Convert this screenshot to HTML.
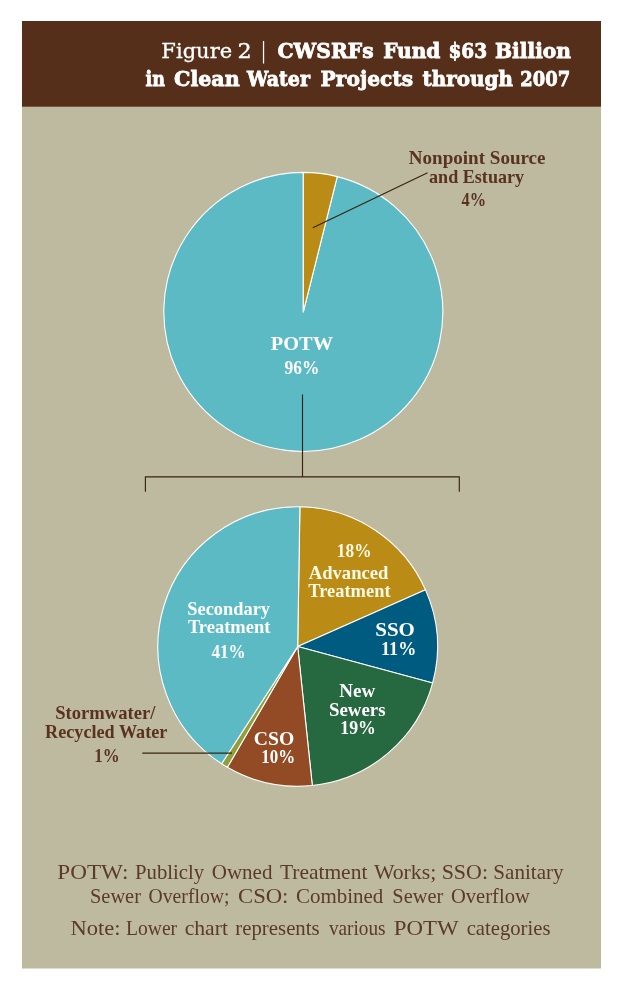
<!DOCTYPE html>
<html lang="en"><head><meta charset="utf-8"><title>Figure 2 | CWSRFs Fund $63 Billion in Clean Water Projects through 2007</title>
<style>html,body{margin:0;padding:0;background:#fff}svg{display:block}</style></head>
<body>
<svg width="623" height="989" viewBox="0 0 623 989">
<rect x="22" y="100" width="579" height="868.5" fill="#bebaa0"/>
<rect x="22" y="21" width="579" height="85.7" fill="#552f1a"/>
<g stroke="#fff" stroke-width="1.1" stroke-linejoin="round">
<path d="M303.30 311.90L337.28 176.60A139.5 139.5 0 1 1 303.30 172.40Z" fill="#5cbac5"/>
<path d="M303.30 311.90L303.30 172.40A139.5 139.5 0 0 1 337.28 176.60Z" fill="#bb8c15"/>
</g>
<g stroke="#fff" stroke-width="1.1" stroke-linejoin="round">
<path d="M297.70 646.50L299.90 506.72A139.8 139.8 0 0 1 425.51 589.86Z" fill="#bb8c15"/>
<path d="M297.70 646.50L425.51 589.86A139.8 139.8 0 0 1 432.67 682.92Z" fill="#005b80"/>
<path d="M297.70 646.50L432.67 682.92A139.8 139.8 0 0 1 312.31 785.53Z" fill="#266840"/>
<path d="M297.70 646.50L312.31 785.53A139.8 139.8 0 0 1 227.38 767.33Z" fill="#934b25"/>
<path d="M297.70 646.50L227.38 767.33A139.8 139.8 0 0 1 221.56 763.75Z" fill="#919e3c"/>
<path d="M297.70 646.50L221.56 763.75A139.8 139.8 0 0 1 299.90 506.72Z" fill="#5cbac5"/>
</g>
<g stroke="#38220f" stroke-width="1.15" fill="none">
<path d="M302.5 394.5V476.9"/>
<path d="M145.4 491.7V476.9H459.3V491.7"/>
<path d="M142.3 753.1H232"/>
<path d="M312.8 227.8L427.6 172.8"/>
</g>
<text y="58.0" font-family="'DejaVu Serif', serif" font-size="20.5" font-weight="normal" fill="#fff" stroke="#fff" stroke-width="0.3"><tspan x="161.38" textLength="70.76" lengthAdjust="spacingAndGlyphs">Figure</tspan> <tspan x="237.51" textLength="14.23" lengthAdjust="spacingAndGlyphs">2</tspan></text>
<text y="58.0" font-family="'DejaVu Serif', serif" font-size="21.5" font-weight="normal" fill="#fff"><tspan x="261.10" textLength="5.07" lengthAdjust="spacingAndGlyphs">|</tspan></text>
<text y="57.8" font-family="'DejaVu Serif', serif" font-size="20.5" font-weight="bold" fill="#fff" stroke="#fff" stroke-width="0.8"><tspan x="277.50" textLength="96.03" lengthAdjust="spacingAndGlyphs">CWSRFs</tspan> <tspan x="383.20" textLength="57.13" lengthAdjust="spacingAndGlyphs">Fund</tspan> <tspan x="448.40" textLength="38.64" lengthAdjust="spacingAndGlyphs">$63</tspan> <tspan x="495.00" textLength="76.01" lengthAdjust="spacingAndGlyphs">Billion</tspan></text>
<text y="86.1" font-family="'DejaVu Serif', serif" font-size="20.5" font-weight="bold" fill="#fff" stroke="#fff" stroke-width="0.8"><tspan x="145.50" textLength="19.42" lengthAdjust="spacingAndGlyphs">in</tspan> <tspan x="174.00" textLength="65.70" lengthAdjust="spacingAndGlyphs">Clean</tspan> <tspan x="247.03" textLength="62.96" lengthAdjust="spacingAndGlyphs">Water</tspan> <tspan x="320.60" textLength="92.53" lengthAdjust="spacingAndGlyphs">Projects</tspan> <tspan x="422.50" textLength="90.41" lengthAdjust="spacingAndGlyphs">through</tspan> <tspan x="520.33" textLength="49.88" lengthAdjust="spacingAndGlyphs">2007</tspan></text>
<text y="164.3" font-family="'Liberation Serif', serif" font-size="19" font-weight="bold" fill="#5a3320"><tspan x="408.80" textLength="136.73" lengthAdjust="spacingAndGlyphs">Nonpoint Source</tspan></text>
<text y="182.5" font-family="'Liberation Serif', serif" font-size="19" font-weight="bold" fill="#5a3320"><tspan x="429.00" textLength="95.12" lengthAdjust="spacingAndGlyphs">and Estuary</tspan></text>
<text y="205.6" font-family="'Liberation Serif', serif" font-size="19" font-weight="bold" fill="#5a3320"><tspan x="461.60" textLength="24.56" lengthAdjust="spacingAndGlyphs">4%</tspan></text>
<text y="349.6" font-family="'Liberation Serif', serif" font-size="19" font-weight="bold" fill="#fff"><tspan x="270.80" textLength="62.20" lengthAdjust="spacingAndGlyphs">POTW</tspan></text>
<text y="374.2" font-family="'Liberation Serif', serif" font-size="19" font-weight="bold" fill="#fff"><tspan x="284.60" textLength="34.82" lengthAdjust="spacingAndGlyphs">96%</tspan></text>
<text y="556.5" font-family="'Liberation Serif', serif" font-size="19" font-weight="bold" fill="#fffae6"><tspan x="336.79" textLength="34.73" lengthAdjust="spacingAndGlyphs">18%</tspan></text>
<text y="579.0" font-family="'Liberation Serif', serif" font-size="19" font-weight="bold" fill="#fffae6"><tspan x="308.80" textLength="79.58" lengthAdjust="spacingAndGlyphs">Advanced</tspan></text>
<text y="597.4" font-family="'Liberation Serif', serif" font-size="19" font-weight="bold" fill="#fffae6"><tspan x="308.30" textLength="82.25" lengthAdjust="spacingAndGlyphs">Treatment</tspan></text>
<text y="636.4" font-family="'Liberation Serif', serif" font-size="19" font-weight="bold" fill="#fff"><tspan x="375.30" textLength="39.56" lengthAdjust="spacingAndGlyphs">SSO</tspan></text>
<text y="654.9" font-family="'Liberation Serif', serif" font-size="19" font-weight="bold" fill="#fff"><tspan x="381.05" textLength="35.21" lengthAdjust="spacingAndGlyphs">11%</tspan></text>
<text y="697.1" font-family="'Liberation Serif', serif" font-size="19" font-weight="bold" fill="#fff"><tspan x="339.30" textLength="35.92" lengthAdjust="spacingAndGlyphs">New</tspan></text>
<text y="716.3" font-family="'Liberation Serif', serif" font-size="19" font-weight="bold" fill="#fff"><tspan x="329.01" textLength="56.48" lengthAdjust="spacingAndGlyphs">Sewers</tspan></text>
<text y="734.2" font-family="'Liberation Serif', serif" font-size="19" font-weight="bold" fill="#fff"><tspan x="340.26" textLength="35.57" lengthAdjust="spacingAndGlyphs">19%</tspan></text>
<text y="745.2" font-family="'Liberation Serif', serif" font-size="19" font-weight="bold" fill="#fff"><tspan x="253.80" textLength="40.41" lengthAdjust="spacingAndGlyphs">CSO</tspan></text>
<text y="762.8" font-family="'Liberation Serif', serif" font-size="19" font-weight="bold" fill="#fff"><tspan x="261.21" textLength="33.88" lengthAdjust="spacingAndGlyphs">10%</tspan></text>
<text y="614.6" font-family="'Liberation Serif', serif" font-size="19" font-weight="bold" fill="#fff"><tspan x="187.33" textLength="82.68" lengthAdjust="spacingAndGlyphs">Secondary</tspan></text>
<text y="633.3" font-family="'Liberation Serif', serif" font-size="19" font-weight="bold" fill="#fff"><tspan x="187.90" textLength="82.54" lengthAdjust="spacingAndGlyphs">Treatment</tspan></text>
<text y="657.8" font-family="'Liberation Serif', serif" font-size="19" font-weight="bold" fill="#fff"><tspan x="211.40" textLength="34.20" lengthAdjust="spacingAndGlyphs">41%</tspan></text>
<text y="719.1" font-family="'Liberation Serif', serif" font-size="19" font-weight="bold" fill="#5a3320"><tspan x="55.22" textLength="100.17" lengthAdjust="spacingAndGlyphs">Stormwater/</tspan></text>
<text y="737.9" font-family="'Liberation Serif', serif" font-size="19" font-weight="bold" fill="#5a3320"><tspan x="45.10" textLength="122.26" lengthAdjust="spacingAndGlyphs">Recycled Water</tspan></text>
<text y="761.7" font-family="'Liberation Serif', serif" font-size="19" font-weight="bold" fill="#5a3320"><tspan x="94.31" textLength="25.38" lengthAdjust="spacingAndGlyphs">1%</tspan></text>
<text y="879.4" font-family="'Liberation Serif', serif" font-size="21.5" font-weight="normal" fill="#5b3a29"><tspan x="57.30" textLength="71.25" lengthAdjust="spacingAndGlyphs">POTW:</tspan> <tspan x="135.00" textLength="69.16" lengthAdjust="spacingAndGlyphs">Publicly</tspan> <tspan x="211.70" textLength="60.76" lengthAdjust="spacingAndGlyphs">Owned</tspan> <tspan x="279.90" textLength="87.47" lengthAdjust="spacingAndGlyphs">Treatment</tspan> <tspan x="373.90" textLength="62.39" lengthAdjust="spacingAndGlyphs">Works;</tspan> <tspan x="441.68" textLength="46.31" lengthAdjust="spacingAndGlyphs">SSO:</tspan> <tspan x="493.32" textLength="70.24" lengthAdjust="spacingAndGlyphs">Sanitary</tspan></text>
<text y="902.8" font-family="'Liberation Serif', serif" font-size="21.5" font-weight="normal" fill="#5b3a29"><tspan x="90.05" textLength="50.90" lengthAdjust="spacingAndGlyphs">Sewer</tspan> <tspan x="148.50" textLength="80.99" lengthAdjust="spacingAndGlyphs">Overflow;</tspan> <tspan x="238.00" textLength="50.43" lengthAdjust="spacingAndGlyphs">CSO:</tspan> <tspan x="296.10" textLength="87.26" lengthAdjust="spacingAndGlyphs">Combined</tspan> <tspan x="392.35" textLength="50.90" lengthAdjust="spacingAndGlyphs">Sewer</tspan> <tspan x="451.00" textLength="78.75" lengthAdjust="spacingAndGlyphs">Overflow</tspan></text>
<text y="935.3" font-family="'Liberation Serif', serif" font-size="21.5" font-weight="normal" fill="#5b3a29"><tspan x="70.50" textLength="50.02" lengthAdjust="spacingAndGlyphs">Note:</tspan> <tspan x="126.00" textLength="51.15" lengthAdjust="spacingAndGlyphs">Lower</tspan> <tspan x="184.70" textLength="43.27" lengthAdjust="spacingAndGlyphs">chart</tspan> <tspan x="235.30" textLength="84.36" lengthAdjust="spacingAndGlyphs">represents</tspan> <tspan x="328.90" textLength="56.63" lengthAdjust="spacingAndGlyphs">various</tspan> <tspan x="393.70" textLength="64.45" lengthAdjust="spacingAndGlyphs">POTW</tspan> <tspan x="466.70" textLength="83.75" lengthAdjust="spacingAndGlyphs">categories</tspan></text>
</svg>
</body></html>
